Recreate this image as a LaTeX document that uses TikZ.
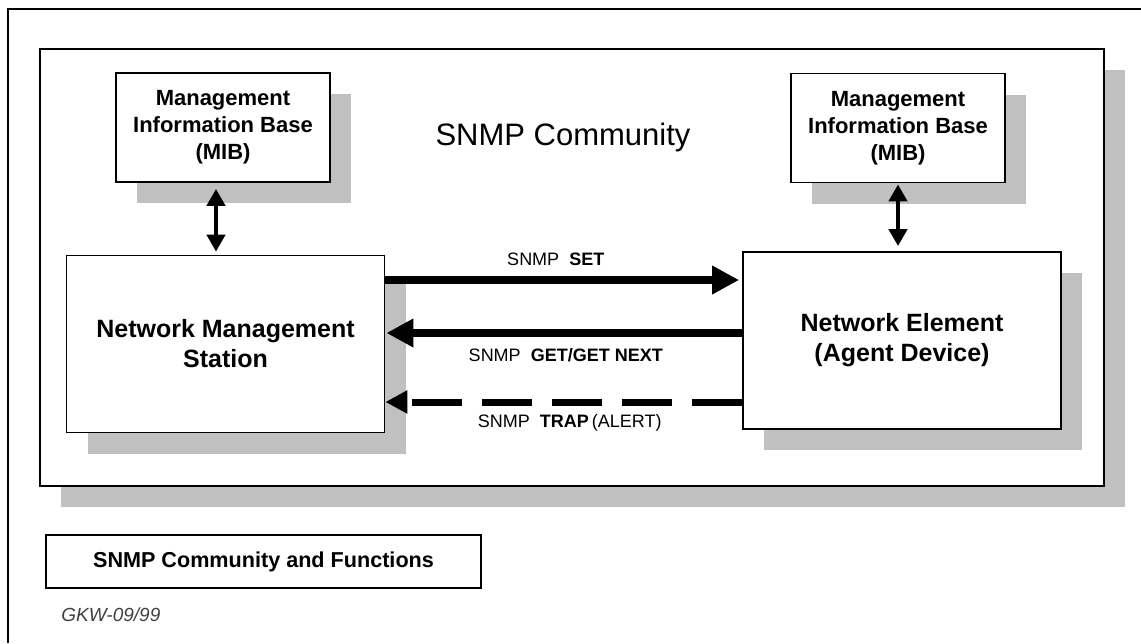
\documentclass[tikz,border=0pt]{standalone}
\usepackage{fontspec}
\setmainfont{Liberation Sans}
\usetikzlibrary{arrows.meta,shadows}
\definecolor{shade}{HTML}{C0C0C0}

\tikzset{
  panel/.style={draw, line width=0.9pt, fill=white, align=center,
    drop shadow={shadow xshift=10.5pt, shadow yshift=-10.5pt, fill=shade, opacity=1}},
  mibbox/.style={panel, minimum width=107pt, minimum height=54.5pt,
    font=\fontsize{11}{13.5}\selectfont\bfseries},
  hostbox/.style={panel, minimum width=159pt, minimum height=88.5pt,
    font=\fontsize{12.5}{15}\selectfont\bfseries},
  msg/.style={line width=3.8pt, -{Triangle[length=13.5pt,width=13.5pt]}},
  trapmsg/.style={line width=3.5pt, dash pattern=on 25pt off 10pt,
    -{Triangle[length=11pt,width=11pt]}},
  mibarrow/.style={line width=2.3pt,
    {Triangle[length=8.5pt,width=9pt]}-{Triangle[length=8.5pt,width=9pt]}},
  msglabel/.style={font=\fontsize{9}{11}\selectfont, inner sep=0pt},
}

\begin{document}
\begin{tikzpicture}[x=0.5pt, y=-0.5pt]
    \useasboundingbox (0,0) rectangle (1141,643);
    % page frame, only its top and left edges fall on the page
    \draw[line width=0.9pt] (8,643) |- (1141,9);

    % Community frame
    \node[panel, minimum width=532pt, minimum height=218.5pt] (community) at (572,267.5) {};
    \node[font=\fontsize{15.5}{18}\selectfont] (title) at (563,137) {SNMP Community};

    % MIBs, manager and agent
    \node[mibbox] (mibL) at (223,127.5) {Management\\Information Base\\(MIB)};
    \node[mibbox] (mibR) at (898,128) {Management\\Information Base\\(MIB)};
    \node[hostbox] (nms) at (225.5,344) {Network Management\\Station};
    \node[hostbox] (ne) at (902,340.5) {Network Element\\(Agent Device)};

    % MIB access
    \draw[mibarrow, shorten <=3pt, shorten >=1.5pt] ([xshift=-3.5pt]mibL.south) -- ([xshift=-3.5pt]mibL.south |- nms.north);
    \draw[mibarrow, shorten <=0.5pt, shorten >=2.5pt] (mibR.south) -- (mibR.south |- ne.north);

    % SNMP messages
    \draw[msg, shorten >=1.5pt] (nms.east |- 0,280) -- (ne.west |- 0,280)
        node[msglabel, midway, xshift=-4pt, yshift=10.5pt] (setlbl) {SNMP\ \ \textbf{SET}};
    \draw[msg, shorten >=0.5pt] (ne.west |- 0,333) -- (nms.east |- 0,333)
        node[msglabel, midway, xshift=1pt, yshift=-11pt] (getlbl) {SNMP\ \ \textbf{GET/GET NEXT}};
    \draw[trapmsg] (ne.west |- 0,402) -- (nms.east |- 0,402)
        node[msglabel, midway, xshift=3pt, yshift=-10.5pt] (traplbl) {SNMP\ \ \textbf{TRAP}\,(ALERT)};

    % Caption
    \node[draw, line width=0.9pt, minimum width=217.5pt, minimum height=26.5pt,
        font=\fontsize{10.8}{13}\selectfont\bfseries] (caption) at (263.5,561.5) {SNMP Community and Functions};
    \node[anchor=west, inner sep=0pt, font=\fontsize{9.5}{11}\selectfont\itshape, text=black!75] (stamp) at (61,615) {GKW-09/99};
\end{tikzpicture}
\end{document}
